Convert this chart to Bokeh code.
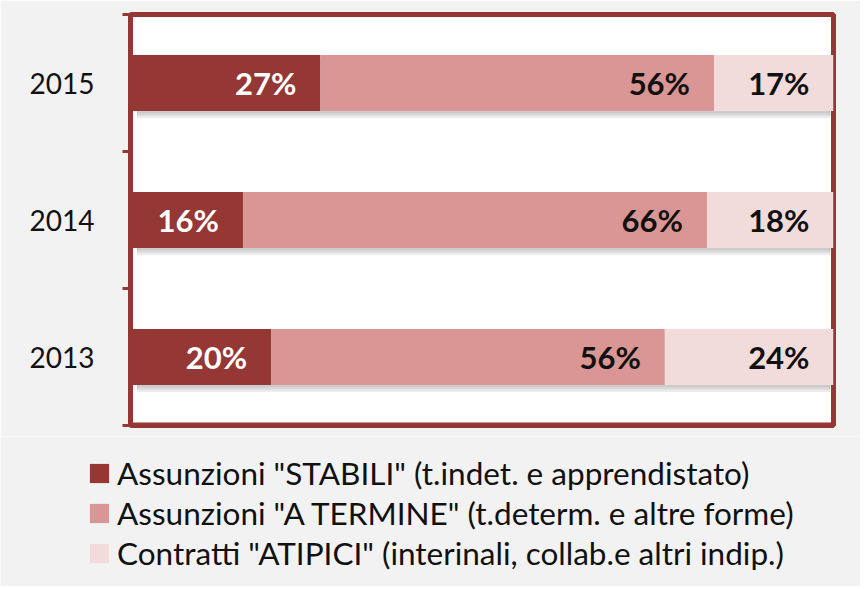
from bokeh.plotting import figure
from bokeh.models import ColumnDataSource, FixedTicker, Legend, LegendItem, Range1d, Span
from bokeh.layouts import column
from bokeh.embed import file_html
from bokeh.resources import INLINE
from bokeh.core.properties import value

years = ["2015", "2014", "2013"]
stabili = [27, 16, 20]
termine = [56, 66, 56]
atipici = [17, 18, 24]
series_keys = ["stabili", "termine", "atipici"]
series_names = [
    'Assunzioni "STABILI" (t.indet. e apprendistato)',
    'Assunzioni "A TERMINE" (t.determ. e altre forme)',
    'Contratti "ATIPICI" (interinali, collab.e altri indip.)',
]
colors = ["#953735", "#d99694", "#f2dcdb"]
label_colors = ["#ffffff", "#111111", "#111111"]
BG = "#f2f2f2"
RED = "#953735"

n = len(years)
ypos = [n - i - 0.5 for i in range(n)]

src = ColumnDataSource(dict(y=ypos, stabili=stabili, termine=termine, atipici=atipici))

yr = Range1d(0, n)
p = figure(width=860, height=436, output_backend="svg", toolbar_location=None,
           x_range=Range1d(0, 100), y_range=yr, x_axis_location=None,
           min_border_left=130, min_border_right=27, min_border_top=14, min_border_bottom=11)
p.frame_align = False
p.border_fill_color = BG
p.background_fill_color = "#ffffff"
p.outline_line_color = RED
p.outline_line_width = 5
p.xgrid.visible = False
p.ygrid.visible = False

# bottom edge of the plot area
p.add_layout(Span(location=yr.start, dimension="width", line_color=RED, line_width=6))

# soft drop shadow under the bars
totals = [a + b + c for a, b, c in zip(stabili, termine, atipici)]
for off in [0.012, 0.024, 0.036, 0.048]:
    p.hbar(y=[v - off for v in ypos], left=[1] * n, right=[t - 0.5 for t in totals],
           height=0.41, color="#000000", alpha=0.05)

rs = p.hbar_stack(series_keys, y="y", height=0.41, color=colors, line_color=None, source=src)

# value labels
cum = [0] * n
for key, vals, col in zip(series_keys, [stabili, termine, atipici], label_colors):
    cum = [c + v for c, v in zip(cum, vals)]
    ls = ColumnDataSource(dict(x=cum, y=ypos, t=[f"{v}%" for v in vals]))
    p.text(x="x", y="y", text="t", source=ls, text_align="right", text_baseline="middle",
           x_offset=-24, text_color=col, text_font=value("Lato"), text_font_style="bold",
           text_font_size="31px")

ax = p.yaxis[0]
ax.ticker = FixedTicker(ticks=ypos, minor_ticks=list(range(n + 1)))
ax.major_label_overrides = {y: yr_ for y, yr_ in zip(ypos, years)}
ax.major_label_text_font = "Lato"
ax.major_label_text_font_size = "28px"
ax.major_label_text_color = "#111111"
ax.major_label_standoff = 28
ax.major_tick_line_color = None
ax.major_tick_out = 8
ax.minor_tick_line_color = RED
ax.minor_tick_line_width = 3
ax.minor_tick_out = 8
ax.minor_tick_in = 0
ax.axis_line_color = RED
ax.axis_line_width = 4

# legend panel below the chart
lg = figure(width=860, height=150, output_backend="svg", toolbar_location=None,
            x_range=Range1d(0, 100), y_range=Range1d(0, n),
            x_axis_location=None, y_axis_location=None,
            min_border_left=0, min_border_right=0, min_border_top=0, min_border_bottom=0)
lg.frame_align = False
lg.border_fill_color = BG
lg.background_fill_color = BG
lg.outline_line_color = None
lg.xgrid.visible = False
lg.ygrid.visible = False
lrs = [lg.hbar(y="y", left=0, right=k, height=0.41, color=c, line_color=None,
               source=src, visible=False) for k, c in zip(series_keys, colors)]

legend = Legend(items=[LegendItem(label=nm, renderers=[r]) for nm, r in zip(series_names, lrs)],
                location=(87, 14), orientation="vertical",
                glyph_width=24, glyph_height=24, label_height=24, spacing=2, padding=0, margin=0,
                label_standoff=6, border_line_color=None, background_fill_alpha=0,
                inactive_fill_alpha=0,
                label_text_font="Lato", label_text_font_size="31.5px", label_text_color="#111111")
lg.add_layout(legend, "center")

layout = column(p, lg, spacing=0)
open("out.html", "w").write(file_html(layout, INLINE))
